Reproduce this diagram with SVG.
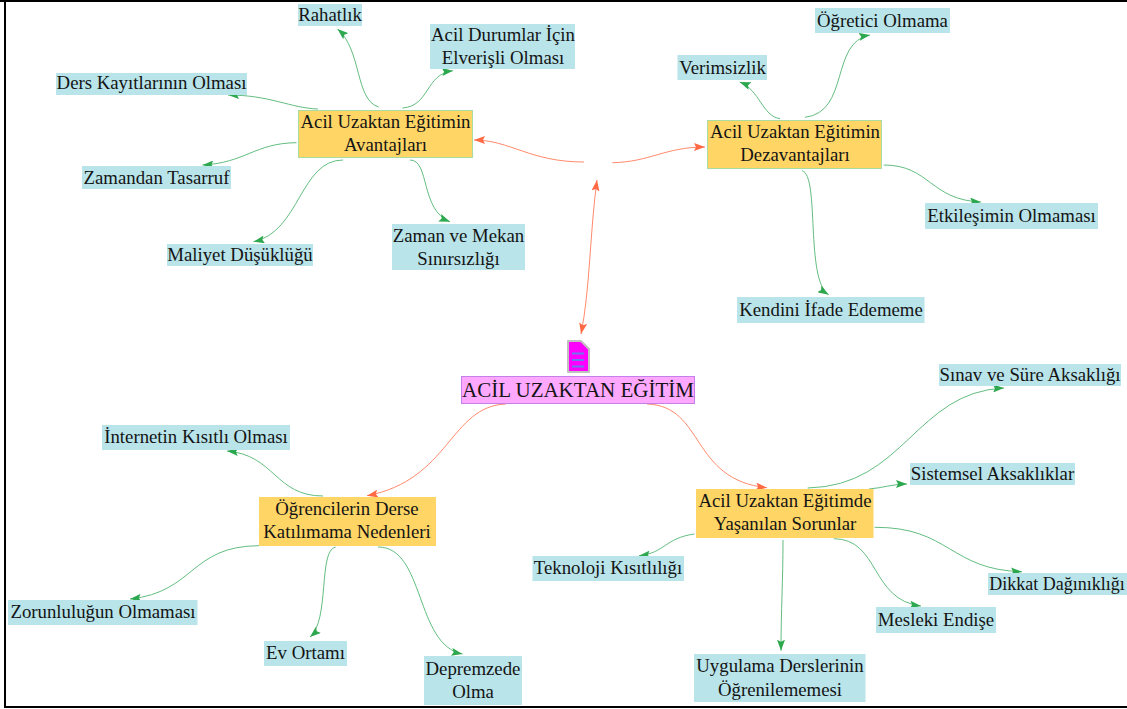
<svg xmlns="http://www.w3.org/2000/svg" width="1127" height="709" viewBox="0 0 1127 709">
<style>
text{font-family:"Liberation Serif","Times New Roman",serif;font-size:18.800px;fill:#141414;text-anchor:middle}
.leaf{fill:#b9e4ea}
.main{fill:#ffd666;stroke:#a8dca0;stroke-width:1}
.g{fill:none;stroke:#63bd80;stroke-width:1}
.o{fill:none;stroke:#ff8a6c;stroke-width:1}
</style>
<defs>
<marker id="ag" markerUnits="userSpaceOnUse" markerWidth="12" markerHeight="8" refX="11" refY="4" orient="auto"><path d="M0 0L11 4L0 8L2 4Z" fill="#2ea84f"/></marker>
<marker id="ao" markerUnits="userSpaceOnUse" markerWidth="12" markerHeight="8" refX="11" refY="4" orient="auto-start-reverse"><path d="M0 0L11 4L0 8L2 4Z" fill="#ff6a45"/></marker>
</defs>
<rect width="1127" height="709" fill="#fff"/>
<g id="frame" fill="#000"><rect x="0" y="0" width="1127" height="2"/><rect x="4" y="0" width="2" height="708"/><rect x="4" y="706" width="1123" height="2"/></g>
<g id="connectors">
<g marker-end="url(#ag)">
<path class="g" d="M378.6 107C355 100 362 50 337.5 29"/>
<path class="g" d="M402.5 108C430 106 425 74 453 70.7"/>
<path class="g" d="M318 109C290 108 270 95 228 95"/>
<path class="g" d="M296.5 142.7C255 143 245 163 202.5 165"/>
<path class="g" d="M343 160C300 160 300 232 253.5 241.7"/>
<path class="g" d="M410 160C430 160 420 210 450 221.7"/>
<path class="g" d="M780 118.7C762 116 760 90 739.7 82"/>
<path class="g" d="M805 117.3C850 112 830 42 870 35"/>
<path class="g" d="M883.7 165C930 165 930 200 981 202"/>
<path class="g" d="M802 170.7C820 175 805 280 828.7 294.7"/>
<path class="g" d="M323 496C275 496 275 455 227 451"/>
<path class="g" d="M259 545.7C190 546 195 592 130 599"/>
<path class="g" d="M335.7 547C318 550 330 620 310 637"/>
<path class="g" d="M378 547C425 547 415 645 462.5 654"/>
<path class="g" d="M807.7 488C905 486 915 392 1004 388"/>
<path class="g" d="M869 489C882 488 893 484 907 484"/>
<path class="g" d="M694.5 534C665 538 665 553 639 555.7"/>
<path class="g" d="M783 540C783 580 781 610 781 650.7"/>
<path class="g" d="M833.8 538.7C880 539 870 600 921 606"/>
<path class="g" d="M874.6 527.3C950 527 950 570 1022 571.7"/>
</g>
<g marker-end="url(#ao)">
<path class="o" d="M584 162C530 162 510 140 474 140"/>
<path class="o" d="M612.4 162.7C650 162 665 147 705 147"/>
<path class="o" d="M506 404C450 406 450 480 367 495.7"/>
<path class="o" d="M647 404C705 406 690 480 767 487.7"/>
<path class="o" marker-start="url(#ao)" d="M597 180C590 230 590 290 581 334"/>
</g>
</g>
<g id="root">
<path d="M568 341H581L589 349V372H568Z" fill="#ff00ff" stroke="#c0c0c0" stroke-width="2" stroke-linejoin="round"/>
<path d="M572 353.500H584M572 360H584M572 366.500H584" stroke="#6a78f0" stroke-width="2"/>
<rect x="461.500" y="376.500" width="233" height="27" fill="#ffa8ff" stroke="#c47fe8"/>
<text x="578" y="397" style="font-size:21px">ACİL UZAKTAN EĞİTİM</text>
</g>
<g id="n-avantaj"><rect class="main" x="298.500" y="110.500" width="174" height="47"/><text x="385.500" y="128">Acil Uzaktan Eğitimin</text><text x="385.500" y="151">Avantajları</text></g>
<g id="n-dezavantaj"><rect class="main" x="707.500" y="120.500" width="174" height="48"/><text x="795" y="138">Acil Uzaktan Eğitimin</text><text x="795" y="161">Dezavantajları</text></g>
<g id="n-katilim"><rect class="main" x="259" y="497" width="177" height="49" style="stroke:none"/><text x="347" y="515">Öğrencilerin Derse</text><text x="347" y="538">Katılımama Nedenleri</text></g>
<g id="n-sorunlar"><rect class="main" x="696" y="489" width="177.500" height="49" style="stroke:none"/><text x="785" y="507">Acil Uzaktan Eğitimde</text><text x="785" y="530">Yaşanılan Sorunlar</text></g>
<g id="l-rahatlik"><rect class="leaf" x="298" y="4" width="64" height="22"/><text x="330" y="21">Rahatlık</text></g>
<g id="l-acil"><rect class="leaf" x="430" y="24" width="145" height="45"/><text x="503" y="41">Acil Durumlar İçin</text><text x="503" y="64">Elverişli Olması</text></g>
<g id="l-ders"><rect class="leaf" x="56" y="73" width="191" height="22"/><text x="151.500" y="89">Ders Kayıtlarının Olması</text></g>
<g id="l-zamandan"><rect class="leaf" x="82" y="166" width="149" height="23"/><text x="156.500" y="184">Zamandan Tasarruf</text></g>
<g id="l-maliyet"><rect class="leaf" x="167" y="244" width="146" height="22"/><text x="240" y="261">Maliyet Düşüklüğü</text></g>
<g id="l-zaman"><rect class="leaf" x="392" y="224" width="133" height="46"/><text x="458.500" y="242">Zaman ve Mekan</text><text x="458.500" y="265">Sınırsızlığı</text></g>
<g id="l-ogretici"><rect class="leaf" x="815" y="8" width="135" height="25"/><text x="882.500" y="27">Öğretici Olmama</text></g>
<g id="l-verimsizlik"><rect class="leaf" x="677.500" y="55" width="89.500" height="25"/><text x="722.500" y="74">Verimsizlik</text></g>
<g id="l-etkilesim"><rect class="leaf" x="925" y="203" width="173" height="26"/><text x="1011.500" y="222">Etkileşimin Olmaması</text></g>
<g id="l-kendini"><rect class="leaf" x="737" y="297" width="187.500" height="26"/><text x="831" y="316">Kendini İfade Edememe</text></g>
<g id="l-internet"><rect class="leaf" x="102" y="425" width="188" height="25"/><text x="196" y="443">İnternetin Kısıtlı Olması</text></g>
<g id="l-zorunluluk"><rect class="leaf" x="8" y="600" width="189.500" height="25"/><text x="103" y="618">Zorunluluğun Olmaması</text></g>
<g id="l-ev"><rect class="leaf" x="264" y="641" width="83" height="25"/><text x="305.500" y="659">Ev Ortamı</text></g>
<g id="l-deprem"><rect class="leaf" x="424" y="656" width="98" height="49"/><text x="473" y="675">Depremzede</text><text x="473" y="698">Olma</text></g>
<g id="l-sinav"><rect class="leaf" x="939" y="364" width="182" height="22"/><text x="1030" y="381">Sınav ve Süre Aksaklığı</text></g>
<g id="l-sistemsel"><rect class="leaf" x="910" y="463" width="165" height="22"/><text x="992.500" y="480">Sistemsel Aksaklıklar</text></g>
<g id="l-teknoloji"><rect class="leaf" x="532.500" y="556" width="151.500" height="25"/><text x="608" y="574">Teknoloji Kısıtlılığı</text></g>
<g id="l-dikkat"><rect class="leaf" x="988" y="573" width="139" height="22"/><text x="1057" y="590" style="font-size:18px">Dikkat Dağınıklığı</text></g>
<g id="l-mesleki"><rect class="leaf" x="876" y="607" width="120" height="26"/><text x="936" y="626">Mesleki Endişe</text></g>
<g id="l-uygulama"><rect class="leaf" x="694" y="654" width="171.500" height="48"/><text x="780" y="672">Uygulama Derslerinin</text><text x="780" y="696">Öğrenilememesi</text></g>
</svg>
